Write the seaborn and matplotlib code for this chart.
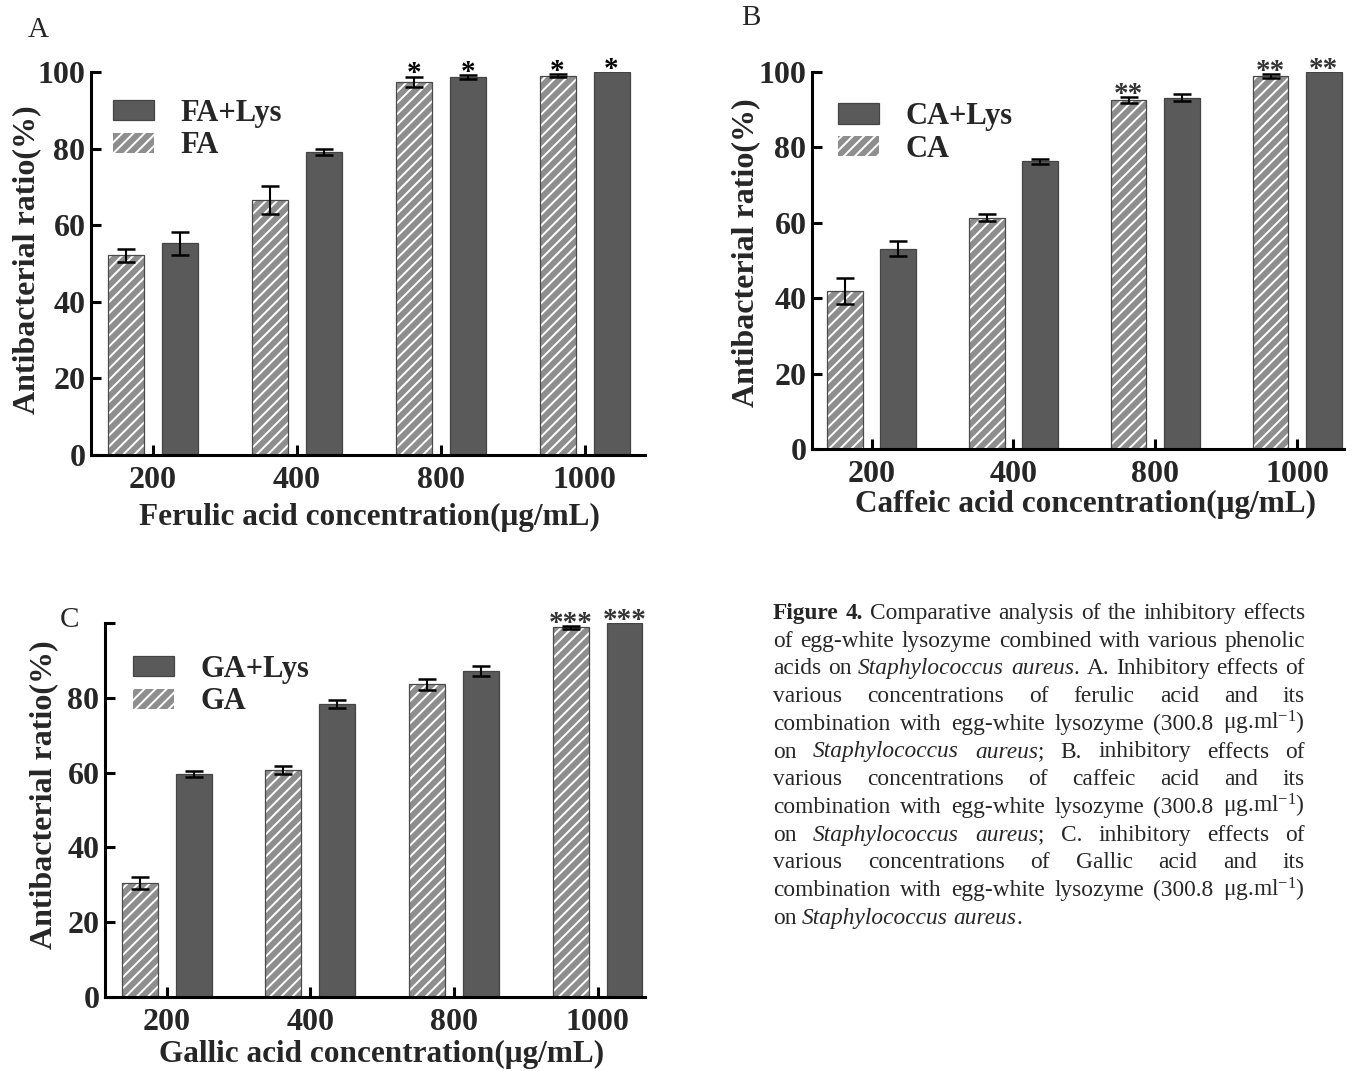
import numpy as np
import pandas as pd
import matplotlib
matplotlib.use('Agg')
import matplotlib.pyplot as plt
from matplotlib.patches import Patch, Rectangle
import seaborn as sns

# Data

concs = ['200', '400', '800', '1000']

fa = [52.1, 66.6, 97.4, 99.0]
fa_err = [1.6, 3.7, 1.4, 0.4]
fa_lys = [55.3, 79.0, 98.7, 100.0]
fa_lys_err = [3.0, 0.8, 0.6, 0.0]
fa_stars = ['', '', '*', '*']
fa_lys_stars = ['', '', '*', '*']

ca = [41.9, 61.4, 92.5, 98.9]
ca_err = [3.5, 0.9, 0.8, 0.6]
ca_lys = [53.1, 76.3, 93.2, 100.0]
ca_lys_err = [2.0, 0.6, 1.0, 0.0]
ca_stars = ['', '', '**', '**']
ca_lys_stars = ['', '', '', '**']

ga = [30.5, 60.7, 83.6, 98.8]
ga_err = [1.6, 1.0, 1.5, 0.4]
ga_lys = [59.7, 78.3, 87.2, 100.0]
ga_lys_err = [0.8, 1.1, 1.4, 0.0]
ga_stars = ['', '', '', '***']
ga_lys_stars = ['', '', '', '***']

y_ticks = [0, 20, 40, 60, 80, 100]

W, H = 1354, 1071
SOLID = '#5a5a5a'
HATCH_BG = '#8e8e8e'

sns.set_style('ticks')
plt.rcParams['font.family'] = ['Liberation Serif', 'DejaVu Serif']
plt.rcParams['mathtext.fontset'] = 'custom'
plt.rcParams['mathtext.rm'] = 'Liberation Serif'
plt.rcParams['mathtext.it'] = 'Liberation Serif:italic'
plt.rcParams['hatch.linewidth'] = 1.4

fig = plt.figure(figsize=(W / 100, H / 100), dpi=100)


def px_axes(left, bottom, width, height):
    return fig.add_axes([left / W, 1 - bottom / H, width / W, height / H])


def draw_panel(ax, name, acid, single, single_err, combo, combo_err,
               s_stars, c_stars, star_color, xlim, top_label=True,
               ylab_pos=(-0.09, 0.51), xlab_pos=(0.5, -0.12), leg_pos=(0.045, 0.93)):
    df = pd.DataFrame({
        'conc': concs * 2,
        'group': [name] * 4 + [name + '+Lys'] * 4,
        'ratio': single + combo,
    })
    sns.barplot(data=df, x='conc', y='ratio', hue='group', order=concs,
                hue_order=[name, name + '+Lys'], width=0.75, gap=0.333,
                errorbar=None, palette=[HATCH_BG, SOLID], saturation=1,
                legend=False, ax=ax)

    bars = sorted(ax.patches, key=lambda p: p.get_x())
    xs, ys, es, stars = [], [], [], []
    for i, p in enumerate(bars):
        k = i // 2
        if i % 2 == 0:
            p.set_facecolor(HATCH_BG)
            p.set_edgecolor('white')
            p.set_hatch('///')
            p.set_linewidth(0)
            ax.add_patch(Rectangle((p.get_x(), 0), p.get_width(), p.get_height(),
                                   fill=False, edgecolor='#4a4a4a', lw=0.9,
                                   zorder=p.get_zorder() + 0.1))
            ys.append(single[k]); es.append(single_err[k]); stars.append(s_stars[k])
        else:
            p.set_facecolor(SOLID)
            p.set_edgecolor('#444444')
            p.set_linewidth(0.9)
            ys.append(combo[k]); es.append(combo_err[k]); stars.append(c_stars[k])
        xs.append(p.get_x() + p.get_width() / 2)

    xs, ys, es = np.array(xs), np.array(ys), np.array(es)
    m = es > 0
    ax.errorbar(xs[m], ys[m], yerr=es[m], fmt='none', ecolor='black',
                elinewidth=1.5, capsize=6.5, capthick=1.8, zorder=5)
    for x, y, e, s in zip(xs, ys, es, stars):
        if s:
            ax.annotate(s, xy=(x, y + e), xytext=(0, -3.5), textcoords='offset points',
                        ha='center', va='baseline', fontsize=21, fontweight='bold',
                        color=star_color, annotation_clip=False)

    ax.set_xlim(*xlim)
    ax.set_ylim(0, 100)
    ax.set_yticks(y_ticks)
    if top_label:
        ax.set_yticklabels([str(v) for v in y_ticks])
    else:
        ax.set_yticklabels([str(v) for v in y_ticks[:-1]] + [''])
    ax.tick_params(axis='both', direction='in', length=7, width=2.2,
                   labelsize=23, color='black')
    ax.tick_params(axis='y', pad=4)
    ax.tick_params(axis='x', pad=8)
    for lbl in ax.get_xticklabels() + ax.get_yticklabels():
        lbl.set_fontweight('bold')
    sns.despine(ax=ax)
    for sp in ['left', 'bottom']:
        ax.spines[sp].set_linewidth(2.2)
        ax.spines[sp].set_color('black')

    ax.set_xlabel(f'{acid} acid concentration(μg/mL)', fontsize=22.5, fontweight='bold')
    ax.set_ylabel('Antibacterial ratio(%)', fontsize=23, fontweight='bold')
    ax.xaxis.set_label_coords(*xlab_pos)
    ax.yaxis.set_label_coords(*ylab_pos)

    handles = [Patch(facecolor=SOLID, edgecolor='#444444', lw=0.9),
               Patch(facecolor=HATCH_BG, edgecolor='white', hatch='///', lw=0)]
    ax.legend(handles, [name + '+Lys', name], loc='upper left',
              bbox_to_anchor=leg_pos, frameon=False, borderaxespad=0, borderpad=0,
              handlelength=1.35, handleheight=0.65, handletextpad=0.85,
              labelspacing=0.12, prop={'size': 22, 'weight': 'bold'})


# Panel A
axA = px_axes(91, 455, 554, 383)
draw_panel(axA, 'FA', 'Ferulic', fa, fa_err, fa_lys, fa_lys_err, fa_stars, fa_lys_stars,
           'black', (-0.43, 3.42), ylab_pos=(-0.09, 0.509), xlab_pos=(0.502, -0.125),
           leg_pos=(0.04, 0.93))

# Panel B
axB = px_axes(812, 449, 532, 377)
draw_panel(axB, 'CA', 'Caffeic', ca, ca_err, ca_lys, ca_lys_err, ca_stars, ca_lys_stars,
           '#333333', (-0.42, 3.33), ylab_pos=(-0.098, 0.52), xlab_pos=(0.515, -0.109),
           leg_pos=(0.049, 0.92))

# Panel C
axC = px_axes(105, 997, 540, 374)
draw_panel(axC, 'GA', 'Gallic', ga, ga_err, ga_lys, ga_lys_err, ga_stars, ga_lys_stars,
           '#333333', (-0.43, 3.33), top_label=False, ylab_pos=(-0.087, 0.54),
           xlab_pos=(0.513, -0.115), leg_pos=(0.052, 0.915))

# Panel letters
for letter, (lx, ly) in {'A': (28, 37), 'B': (741, 25), 'C': (60, 627)}.items():
    fig.text(lx / W, 1 - ly / H, letter, fontsize=21, va='baseline', ha='left')

# Caption (justified)
ML = 'μg.ml$^{-1}$)'
caption = [
    'b~Figure b~4. Comparative analysis of the inhibitory effects',
    'of egg-white lysozyme combined with various phenolic',
    'acids on i~Staphylococcus i~aureus|. A. Inhibitory effects of',
    'various concentrations of ferulic acid and its',
    'combination with egg-white lysozyme (300.8 ' + ML,
    'on i~Staphylococcus i~aureus|; B. inhibitory effects of',
    'various concentrations of caffeic acid and its',
    'combination with egg-white lysozyme (300.8 ' + ML,
    'on i~Staphylococcus i~aureus|; C. inhibitory effects of',
    'various concentrations of Gallic acid and its',
    'combination with egg-white lysozyme (300.8 ' + ML,
    'on i~Staphylococcus i~aureus|.',
]

renderer = fig.canvas.get_renderer()
cap_x0, cap_x1 = 773, 1305
cap_y0, cap_dy = 619, 27.7
cap_size = 16.8
for li, line in enumerate(caption):
    yb = 1 - (cap_y0 + li * cap_dy) / H
    words = []
    for word in line.split(' '):
        pieces = []
        for piece in word.split('|'):
            style = 'r'
            if piece[:2] in ('b~', 'i~'):
                style, piece = piece[0], piece[2:]
            t = fig.text(0, yb, piece, fontsize=cap_size, va='baseline', ha='left',
                         fontweight='bold' if style == 'b' else 'normal',
                         fontstyle='italic' if style == 'i' else 'normal')
            pieces.append(t)
        words.append(pieces)
    widths = [[t.get_window_extent(renderer).width for t in w] for w in words]
    total = sum(sum(w) for w in widths)
    last = li == len(caption) - 1
    gap = 5.5 if last else (cap_x1 - cap_x0 - total) / (len(words) - 1)
    x = cap_x0
    for pieces, ws in zip(words, widths):
        for t, w in zip(pieces, ws):
            t.set_x(x / W)
            x += w
        x += gap

fig.savefig('out.png', dpi=100)
